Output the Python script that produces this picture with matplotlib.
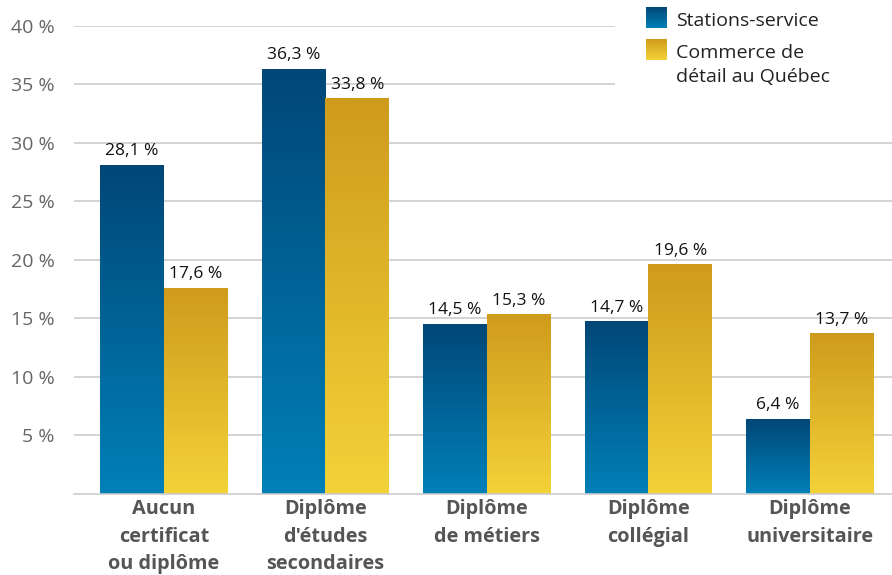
import numpy as np
import matplotlib.pyplot as plt
from matplotlib.colors import LinearSegmentedColormap

categories = ["Aucun\ncertificat\nou diplôme", "Diplôme\nd'études\nsecondaires",
              "Diplôme\nde métiers", "Diplôme\ncollégial", "Diplôme\nuniversitaire"]
stations = [28.1, 36.3, 14.5, 14.7, 6.4]
commerce = [17.6, 33.8, 15.3, 19.6, 13.7]
series_names = ["Stations-service", "Commerce de\ndétail au Québec"]
yticks = [5, 10, 15, 20, 25, 30, 35, 40]

plt.rcParams['font.family'] = ['Open Sans', 'DejaVu Sans']

blue_cm = LinearSegmentedColormap.from_list("b", ["#0080b8", "#004777"])
gold_cm = LinearSegmentedColormap.from_list("g", ["#f3d238", "#cf9b1c"])
grad = np.linspace(0, 1, 256).reshape(-1, 1)

fig = plt.figure(figsize=(8.92, 5.75), dpi=100)
ax = fig.add_axes([0.083, 0.141, 0.917, 0.814])

x = np.arange(len(categories))
w = 0.396
b1 = ax.bar(x - w / 2, stations, w, facecolor='none', edgecolor='none')
b2 = ax.bar(x + w / 2, commerce, w, facecolor='none', edgecolor='none')

for bars, cm in ((b1, blue_cm), (b2, gold_cm)):
    for b in bars:
        x0, h = b.get_x(), b.get_height()
        ax.imshow(grad, extent=[x0, x0 + b.get_width(), 0, h], origin='lower',
                  aspect='auto', cmap=cm, zorder=2, interpolation='bilinear')
        lab = f"{h:.1f} %".replace('.', ',')
        ax.text(x0 + b.get_width() / 2, h + 0.5, lab, ha='center', va='bottom',
                fontsize=12.5, color='#111111', zorder=3)

ax.set_xlim(-0.557, 4.508)
ax.set_ylim(0, 40)
ax.set_yticks(yticks)
ax.set_yticklabels([f"{t} %" for t in yticks], fontsize=14, color='#666666')
ax.set_xticks(x)
ax.set_xticklabels(categories, fontsize=14.3, fontweight='bold', color='#555555',
                   linespacing=1.5)
ax.tick_params(axis='both', length=0)
ax.tick_params(axis='y', pad=14)
ax.tick_params(axis='x', pad=4)
ax.grid(axis='y', color='#cccccc', linewidth=1.2, zorder=0)
ax.set_axisbelow(True)
for s in ['top', 'right', 'left']:
    ax.spines[s].set_visible(False)
ax.spines['bottom'].set_color('#cccccc')
ax.spines['bottom'].set_linewidth(1.2)

# legend drawn by hand with gradient swatches
leg_bg = fig.add_axes([615 / 892, 1 - 92 / 575, 277 / 892, 92 / 575])
leg_bg.set_facecolor('white')
leg_bg.set_xticks([])
leg_bg.set_yticks([])
for s in leg_bg.spines.values():
    s.set_visible(False)
for i, cm in enumerate((blue_cm, gold_cm)):
    top = 7 + i * 32
    sw = fig.add_axes([646 / 892, 1 - (top + 21) / 575, 21 / 892, 21 / 575])
    sw.imshow(grad, origin='lower', aspect='auto', cmap=cm)
    sw.axis('off')
fig.text(676 / 892, 1 - 21 / 575, series_names[0], fontsize=14, color='#222222', va='center')
fig.text(676 / 892, 1 - 44 / 575, series_names[1], fontsize=14, color='#222222', va='top',
         linespacing=1.45)

fig.savefig("out.png", dpi=100)
